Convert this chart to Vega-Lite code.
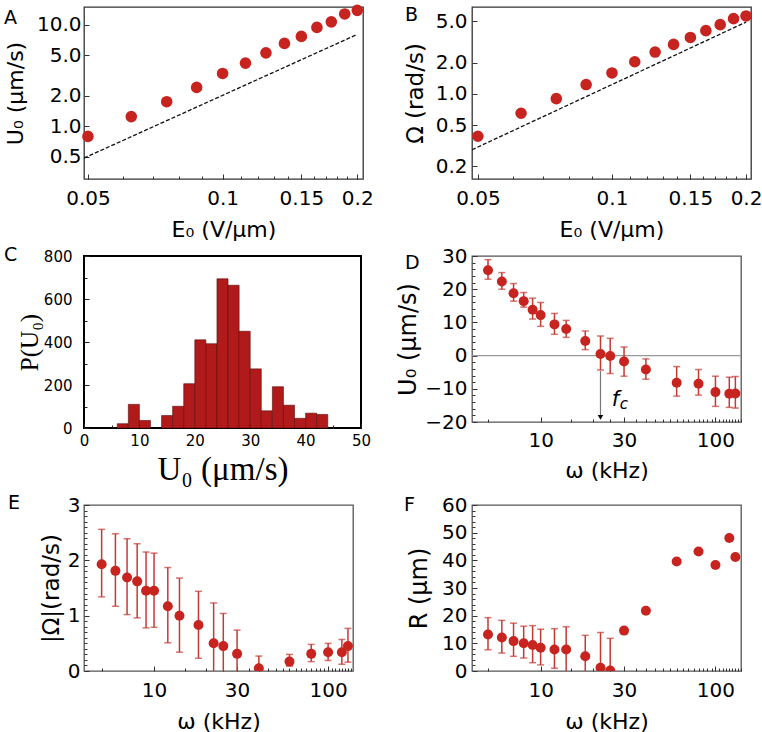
{
  "$schema": "https://vega.github.io/schema/vega-lite/v6.json",
  "background": "white",
  "padding": {"left": 3, "top": 3, "right": 0, "bottom": 0},
  "config": {
    "font": "DejaVu Sans",
    "view": {"stroke": "#333", "strokeWidth": 1.3},
    "axis": {"grid": false, "domain": false, "tickColor": "#333", "tickWidth": 1, "tickSize": 5, "offset": -5,
             "labelFont": "DejaVu Sans", "labelFontSize": 20, "labelColor": "black",
             "titleFont": "DejaVu Sans", "titleFontSize": 22, "titleFontWeight": "normal", "titleColor": "black",
             "labelFlush": false, "labelOverlap": false},
    "text": {"font": "DejaVu Sans", "color": "black"}
  },
  "datasets": {
    "one": [{}],
    "A": [
      {"E": 0.05, "U": 0.79}, {"E": 0.0625, "U": 1.24}, {"E": 0.075, "U": 1.74}, {"E": 0.0875, "U": 2.41},
      {"E": 0.1, "U": 3.31}, {"E": 0.1125, "U": 4.19}, {"E": 0.125, "U": 5.29}, {"E": 0.1375, "U": 6.55},
      {"E": 0.15, "U": 7.68}, {"E": 0.1625, "U": 9.43}, {"E": 0.175, "U": 10.7}, {"E": 0.1875, "U": 12.8},
      {"E": 0.2, "U": 13.9}
    ],
    "Aline": [{"E": 0.049, "U": 0.483}, {"E": 0.2, "U": 8.04}],
    "B": [
      {"E": 0.05, "W": 0.39}, {"E": 0.0625, "W": 0.65}, {"E": 0.075, "W": 0.90}, {"E": 0.0875, "W": 1.23},
      {"E": 0.1, "W": 1.59}, {"E": 0.1125, "W": 2.04}, {"E": 0.125, "W": 2.53}, {"E": 0.1375, "W": 3.00},
      {"E": 0.15, "W": 3.50}, {"E": 0.1625, "W": 4.07}, {"E": 0.175, "W": 4.65}, {"E": 0.1875, "W": 5.31},
      {"E": 0.2, "W": 5.64}
    ],
    "Bline": [{"E": 0.0485, "W": 0.289}, {"E": 0.2, "W": 4.92}],
    "C": [
      {"lo": 6, "hi": 8, "n": 20}, {"lo": 8, "hi": 10, "n": 110}, {"lo": 10, "hi": 12, "n": 35},
      {"lo": 14, "hi": 16, "n": 58}, {"lo": 16, "hi": 18, "n": 101}, {"lo": 18, "hi": 20, "n": 206},
      {"lo": 20, "hi": 22, "n": 410}, {"lo": 22, "hi": 24, "n": 392}, {"lo": 24, "hi": 26, "n": 694},
      {"lo": 26, "hi": 28, "n": 664}, {"lo": 28, "hi": 30, "n": 450}, {"lo": 30, "hi": 32, "n": 275},
      {"lo": 32, "hi": 34, "n": 80}, {"lo": 34, "hi": 36, "n": 192}, {"lo": 36, "hi": 38, "n": 106},
      {"lo": 38, "hi": 40, "n": 45}, {"lo": 40, "hi": 42, "n": 69}, {"lo": 42, "hi": 44, "n": 63}
    ],
    "D": [
      {"f": 5, "v": 25.7, "lo": 23.0, "hi": 28.9}, {"f": 6, "v": 22.3, "lo": 20.0, "hi": 25.0},
      {"f": 7, "v": 18.8, "lo": 16.4, "hi": 21.7}, {"f": 8, "v": 16.4, "lo": 14.6, "hi": 19.0},
      {"f": 9, "v": 13.8, "lo": 11.0, "hi": 17.3}, {"f": 10, "v": 12.2, "lo": 8.8, "hi": 16.0},
      {"f": 12, "v": 9.4, "lo": 6.4, "hi": 12.7}, {"f": 14, "v": 8.0, "lo": 5.5, "hi": 10.6},
      {"f": 18, "v": 4.4, "lo": 1.8, "hi": 7.4}, {"f": 22, "v": 0.5, "lo": -4.3, "hi": 5.9},
      {"f": 25, "v": -0.1, "lo": -5.4, "hi": 5.2}, {"f": 30, "v": -1.8, "lo": -6.2, "hi": 2.6},
      {"f": 40, "v": -4.2, "lo": -7.1, "hi": -1.0}, {"f": 60, "v": -8.2, "lo": -12.2, "hi": -3.3},
      {"f": 80, "v": -8.5, "lo": -11.9, "hi": -4.2}, {"f": 100, "v": -11.0, "lo": -15.3, "hi": -6.2},
      {"f": 120, "v": -11.5, "lo": -15.6, "hi": -6.5}, {"f": 130, "v": -11.4, "lo": -15.8, "hi": -6.3}
    ],
    "Darrow": [{"f": 22, "top": -4.6, "bot": -18.2, "tip": -18.6}],
    "Dlabel": [{"f": 25.5, "y": -15.2}],
    "E": [
      {"f": 5, "v": 1.93, "lo": 1.34, "hi": 2.56}, {"f": 6, "v": 1.81, "lo": 1.17, "hi": 2.48},
      {"f": 7, "v": 1.69, "lo": 1.02, "hi": 2.39}, {"f": 8, "v": 1.62, "lo": 0.96, "hi": 2.30},
      {"f": 9, "v": 1.45, "lo": 0.78, "hi": 2.15}, {"f": 10, "v": 1.45, "lo": 0.79, "hi": 2.13},
      {"f": 12, "v": 1.17, "lo": 0.51, "hi": 1.87}, {"f": 14, "v": 1.00, "lo": 0.34, "hi": 1.68},
      {"f": 18, "v": 0.83, "lo": 0.23, "hi": 1.44}, {"f": 22, "v": 0.50, "lo": -0.2, "hi": 1.23},
      {"f": 25, "v": 0.45, "lo": -0.15, "hi": 1.04}, {"f": 30, "v": 0.31, "lo": -0.1, "hi": 0.74},
      {"f": 40, "v": 0.05, "lo": -0.2, "hi": 0.27}, {"f": 60, "v": 0.17, "lo": 0.09, "hi": 0.30},
      {"f": 80, "v": 0.31, "lo": 0.17, "hi": 0.48}, {"f": 100, "v": 0.34, "lo": 0.19, "hi": 0.50},
      {"f": 120, "v": 0.34, "lo": 0.12, "hi": 0.57}, {"f": 130, "v": 0.45, "lo": 0.16, "hi": 0.77}
    ],
    "F": [
      {"f": 5, "v": 13.2, "lo": 7.7, "hi": 19.3}, {"f": 6, "v": 12.1, "lo": 6.5, "hi": 18.3},
      {"f": 7, "v": 10.8, "lo": 5.3, "hi": 17.3}, {"f": 8, "v": 10.0, "lo": 4.7, "hi": 16.2},
      {"f": 9, "v": 9.4, "lo": 3.0, "hi": 16.4}, {"f": 10, "v": 8.4, "lo": 2.2, "hi": 15.1},
      {"f": 12, "v": 7.8, "lo": 1.0, "hi": 15.3}, {"f": 14, "v": 7.8, "lo": -0.5, "hi": 16.0},
      {"f": 18, "v": 5.3, "lo": -2, "hi": 12.9}, {"f": 22, "v": 1.2, "lo": -11, "hi": 13.9},
      {"f": 25, "v": 0.2, "lo": -11, "hi": 11.8}, {"f": 30, "v": 14.6}, {"f": 40, "v": 21.8},
      {"f": 60, "v": 39.6}, {"f": 80, "v": 43.2}, {"f": 100, "v": 38.3}, {"f": 120, "v": 48.1},
      {"f": 130, "v": 41.2}
    ]
  },
  "columns": 2,
  "bounds": "flush",
  "align": "each",
  "spacing": {"row": 77, "column": 109},
  "concat": [
    {
      "width": 279, "height": 172,
      "resolve": {"axis": {"x": "independent", "y": "independent"}},
      "layer": [
        {"layer": [
          {"data": {"name": "Aline"}, "mark": {"type": "line", "color": "#111", "strokeWidth": 1.3, "strokeDash": [4, 2]},
           "encoding": {
             "x": {"field": "E", "type": "quantitative", "title": "E₀ (V/μm)", "scale": {"type": "log", "domain": [0.049, 0.206], "nice": false},
                   "axis": {"orient": "bottom", "values": [0.05, 0.1, 0.15, 0.2], "format": "~g",
                            "labelBaseline": "alphabetic", "labelPadding": 25.7, "titleY": 62, "titleBaseline": "alphabetic"}},
             "y": {"field": "U", "type": "quantitative", "title": "U₀ (μm/s)", "scale": {"type": "log", "domain": [0.3, 15], "nice": false},
                   "axis": {"orient": "left", "values": [0.5, 1, 2, 5, 10], "format": ".1f", "labelPadding": 3,
                            "titleX": -62, "titleBaseline": "bottom", "titleFontSize": 22}}
           }},
          {"data": {"name": "A"}, "mark": {"type": "circle", "size": 135, "color": "#c8241f", "opacity": 1},
           "encoding": {
             "x": {"field": "E", "type": "quantitative", "title": "E₀ (V/μm)"},
             "y": {"field": "U", "type": "quantitative", "title": "U₀ (μm/s)"}
           }}
        ]},
        {"data": {"name": "one"}, "mark": {"type": "text", "text": "A", "align": "left", "baseline": "alphabetic", "dx": -80, "dy": 16.7, "fontSize": 19},
         "encoding": {
           "x": {"datum": 0.049, "type": "quantitative",
                 "axis": {"orient": "bottom", "values": [0.05,0.06,0.07,0.08,0.09,0.1,0.11,0.12,0.13,0.14,0.15,0.16,0.17,0.18,0.19,0.2],
                          "labels": false, "title": null, "tickSize": 3, "offset": -3}},
           "y": {"datum": 15, "type": "quantitative", "axis": null}
         }}
      ]
    },
    {
      "width": 279, "height": 172,
      "resolve": {"axis": {"x": "independent", "y": "independent"}},
      "layer": [
        {"layer": [
          {"data": {"name": "Bline"}, "mark": {"type": "line", "color": "#111", "strokeWidth": 1.3, "strokeDash": [4, 2]},
           "encoding": {
             "x": {"field": "E", "type": "quantitative", "title": "E₀ (V/μm)", "scale": {"type": "log", "domain": [0.0485, 0.2052], "nice": false},
                   "axis": {"orient": "bottom", "values": [0.05, 0.1, 0.15, 0.2], "format": "~g",
                            "labelBaseline": "alphabetic", "labelPadding": 25.7, "titleY": 62, "titleBaseline": "alphabetic"}},
             "y": {"field": "W", "type": "quantitative", "title": "Ω (rad/s)", "scale": {"type": "log", "domain": [0.151, 6.88], "nice": false},
                   "axis": {"orient": "left", "values": [0.2, 0.5, 1, 2, 5], "format": ".1f", "labelPadding": 5,
                            "titleX": -50, "titleBaseline": "bottom", "titleFontSize": 23}}
           }},
          {"data": {"name": "B"}, "mark": {"type": "circle", "size": 135, "color": "#c8241f", "opacity": 1},
           "encoding": {
             "x": {"field": "E", "type": "quantitative", "title": "E₀ (V/μm)"},
             "y": {"field": "W", "type": "quantitative", "title": "Ω (rad/s)"}
           }}
        ]},
        {"data": {"name": "one"}, "mark": {"type": "text", "text": "B", "align": "left", "baseline": "alphabetic", "dx": -67, "dy": 14.3, "fontSize": 19},
         "encoding": {
           "x": {"datum": 0.0485, "type": "quantitative",
                 "axis": {"orient": "bottom", "values": [0.05,0.06,0.07,0.08,0.09,0.1,0.11,0.12,0.13,0.14,0.15,0.16,0.17,0.18,0.19,0.2],
                          "labels": false, "title": null, "tickSize": 3, "offset": -3}},
           "y": {"datum": 6.88, "type": "quantitative", "axis": null}
         }}
      ]
    },
    {
      "width": 277, "height": 172,
      "view": {"stroke": "black", "strokeWidth": 2},
      "resolve": {"axis": {"x": "independent", "y": "independent"}},
      "layer": [
        {"data": {"name": "C"},
         "mark": {"type": "rect", "fill": "#b01a1a", "stroke": "#5e0c0c", "strokeWidth": 0.6},
         "encoding": {
           "x": {"field": "lo", "type": "quantitative", "title": "U₀ (μm/s)", "scale": {"domain": [0, 50], "nice": false},
                 "axis": {"orient": "bottom", "values": [0, 10, 20, 30, 40, 50], "labelFontSize": 15,
                          "labelBaseline": "alphabetic", "labelPadding": 17, "tickColor": "#222",
                          "titleFont": "Liberation Serif", "titleFontSize": 33, "titleY": 56, "titleBaseline": "alphabetic"}},
           "x2": {"field": "hi"},
           "y": {"field": "n", "type": "quantitative", "title": "P(U₀)", "scale": {"domain": [0, 800], "nice": false},
                 "axis": {"orient": "left", "values": [0, 200, 400, 600, 800], "labelFontSize": 15,
                          "labelPadding": 12, "tickColor": "#222",
                          "titleFont": "Liberation Serif", "titleFontSize": 25, "titleX": -47, "titleBaseline": "bottom"}},
           "y2": {"datum": 0}
         }},
        {"data": {"name": "one"}, "mark": {"type": "text", "text": "C", "align": "left", "baseline": "alphabetic", "dx": -80, "dy": 5, "fontSize": 19},
         "encoding": {
           "x": {"datum": 0, "type": "quantitative",
                 "axis": {"orient": "bottom", "values": [5, 15, 25, 35, 45], "labels": false, "title": null, "tickSize": 3, "offset": -3, "tickColor": "#222"}},
           "y": {"datum": 800, "type": "quantitative",
                 "axis": {"orient": "left", "values": [100, 300, 500, 700], "labels": false, "title": null, "tickSize": 3, "offset": -3, "tickColor": "#222"}}
         }}
      ]
    },
    {
      "width": 269, "height": 166,
      "view": {"stroke": "#555", "strokeWidth": 1.3},
      "resolve": {"axis": {"x": "independent", "y": "independent"}},
      "layer": [
        {"layer": [
          {"data": {"name": "one"}, "mark": {"type": "rule", "color": "#999", "strokeWidth": 1.2},
           "encoding": {
             "x": {"datum": 4.05, "type": "quantitative", "scale": {"type": "log", "domain": [4.05, 140], "nice": false}, "axis": null},
             "x2": {"datum": 140},
             "y": {"datum": 0, "type": "quantitative", "scale": {"domain": [-20, 30], "nice": false, "zero": false}, "axis": null}
           }},
          {"data": {"name": "Darrow"}, "mark": {"type": "rule", "color": "#777", "strokeWidth": 1.2},
           "encoding": {"x": {"field": "f", "type": "quantitative", "axis": null}, "y": {"field": "top", "type": "quantitative", "axis": null}, "y2": {"field": "bot"}}},
          {"data": {"name": "Darrow"}, "mark": {"type": "point", "shape": "triangle-down", "filled": true, "color": "black", "size": 30, "opacity": 1},
           "encoding": {"x": {"field": "f", "type": "quantitative", "axis": null}, "y": {"field": "tip", "type": "quantitative", "axis": null}}},
          {"data": {"name": "Dlabel"}, "mark": {"type": "text", "text": "f", "fontStyle": "italic", "fontSize": 21, "align": "left", "baseline": "alphabetic"},
           "encoding": {"x": {"field": "f", "type": "quantitative", "axis": null}, "y": {"field": "y", "type": "quantitative", "axis": null}}},
          {"data": {"name": "Dlabel"}, "mark": {"type": "text", "text": "c", "fontStyle": "italic", "fontSize": 15, "align": "left", "baseline": "alphabetic", "dx": 8, "dy": 3},
           "encoding": {"x": {"field": "f", "type": "quantitative", "axis": null}, "y": {"field": "y", "type": "quantitative", "axis": null}}},
          {"data": {"name": "D"}, "mark": {"type": "errorbar", "ticks": true, "size": 7, "color": "#c33a33", "thickness": 1.5, "clip": true},
           "encoding": {"x": {"field": "f", "type": "quantitative", "axis": null}, "y": {"field": "lo", "type": "quantitative", "axis": null}, "y2": {"field": "hi"}}},
          {"data": {"name": "D"}, "mark": {"type": "circle", "size": 100, "color": "#c8241f", "opacity": 1},
           "encoding": {"x": {"field": "f", "type": "quantitative", "axis": null}, "y": {"field": "v", "type": "quantitative", "axis": null}}}
        ]},
        {"data": {"name": "one"}, "mark": {"type": "text", "text": "D", "align": "left", "baseline": "alphabetic", "dx": -67, "dy": 13, "fontSize": 19},
         "encoding": {
           "x": {"datum": 4.05, "type": "quantitative",
                 "axis": {"title": "ω (kHz)", "orient": "bottom", "values": [10, 30, 100], "format": "d", "labelOverlap": false,
                          "labelBaseline": "alphabetic", "labelPadding": 24, "titleY": 60, "titleBaseline": "alphabetic"}},
           "y": {"datum": 30, "type": "quantitative",
                 "axis": {"title": "U₀ (μm/s)", "orient": "left", "values": [-20, -10, 0, 10, 20, 30], "format": "d", "labelPadding": 5, "labelOverlap": false,
                          "titleX": -57, "titleBaseline": "bottom", "titleFontSize": 24}}
         }},
        {"data": {"name": "one"}, "mark": {"type": "text", "text": ""},
         "encoding": {
           "x": {"datum": 4.05, "type": "quantitative",
                 "axis": {"orient": "bottom", "values": [5,15,20,25,35,40,45,50,55,60,65,70,75,80,85,90,95,105,110,115,120,125,130,135,140],
                          "labels": false, "title": null, "tickSize": 3, "offset": -3}},
           "y": {"datum": 30, "type": "quantitative",
                 "axis": {"orient": "left", "values": [-18,-16,-14,-12,-8,-6,-4,-2,2,4,6,8,12,14,16,18,22,24,26,28],
                          "labels": false, "title": null, "tickSize": 3, "offset": -3}}
         }}
      ]
    },
    {
      "width": 269, "height": 166,
      "view": {"stroke": "#555", "strokeWidth": 1.3},
      "resolve": {"axis": {"x": "independent", "y": "independent"}},
      "layer": [
        {"layer": [
          {"data": {"name": "E"}, "mark": {"type": "errorbar", "ticks": true, "size": 7, "color": "#c33a33", "thickness": 1.5, "clip": true},
           "encoding": {
             "x": {"field": "f", "type": "quantitative", "scale": {"type": "log", "domain": [3.96, 139], "nice": false}, "axis": null},
             "y": {"field": "lo", "type": "quantitative", "scale": {"domain": [0, 3], "nice": false}, "axis": null},
             "y2": {"field": "hi"}
           }},
          {"data": {"name": "E"}, "mark": {"type": "circle", "size": 100, "color": "#c8241f", "opacity": 1, "clip": true},
           "encoding": {"x": {"field": "f", "type": "quantitative", "axis": null}, "y": {"field": "v", "type": "quantitative", "axis": null}}}
        ]},
        {"data": {"name": "one"}, "mark": {"type": "text", "text": "E", "align": "left", "baseline": "alphabetic", "dx": -76, "dy": 4, "fontSize": 19},
         "encoding": {
           "x": {"datum": 3.96, "type": "quantitative",
                 "axis": {"title": "ω (kHz)", "orient": "bottom", "values": [10, 30, 100], "format": "d", "labelOverlap": false,
                          "labelBaseline": "alphabetic", "labelPadding": 25, "titleY": 62, "titleBaseline": "alphabetic"}},
           "y": {"datum": 3, "type": "quantitative",
                 "axis": {"title": "|Ω|(rad/s)", "orient": "left", "values": [0, 1, 2, 3], "format": "d", "labelPadding": 4, "labelOverlap": false,
                          "titleX": -26, "titleBaseline": "bottom", "titleFontSize": 23}}
         }},
        {"data": {"name": "one"}, "mark": {"type": "text", "text": ""},
         "encoding": {
           "x": {"datum": 3.96, "type": "quantitative",
                 "axis": {"orient": "bottom", "values": [5,15,20,25,35,40,45,50,55,60,65,70,75,80,85,90,95,105,110,115,120,125,130,135],
                          "labels": false, "title": null, "tickSize": 3, "offset": -3}},
           "y": {"datum": 3, "type": "quantitative",
                 "axis": {"orient": "left", "values": [0.1,0.2,0.3,0.4,0.5,0.6,0.7,0.8,0.9,1.1,1.2,1.3,1.4,1.5,1.6,1.7,1.8,1.9,2.1,2.2,2.3,2.4,2.5,2.6,2.7,2.8,2.9],
                          "labels": false, "title": null, "tickSize": 3, "offset": -3}}
         }}
      ]
    },
    {
      "width": 269, "height": 166,
      "view": {"stroke": "#555", "strokeWidth": 1.3},
      "resolve": {"axis": {"x": "independent", "y": "independent"}},
      "layer": [
        {"layer": [
          {"data": {"name": "F"}, "transform": [{"filter": "isValid(datum.lo)"}],
           "mark": {"type": "errorbar", "ticks": true, "size": 7, "color": "#c33a33", "thickness": 1.5, "clip": true},
           "encoding": {
             "x": {"field": "f", "type": "quantitative", "scale": {"type": "log", "domain": [4.05, 140], "nice": false}, "axis": null},
             "y": {"field": "lo", "type": "quantitative", "scale": {"domain": [0, 60], "nice": false}, "axis": null},
             "y2": {"field": "hi"}
           }},
          {"data": {"name": "F"}, "mark": {"type": "circle", "size": 100, "color": "#c8241f", "opacity": 1, "clip": true},
           "encoding": {"x": {"field": "f", "type": "quantitative", "axis": null}, "y": {"field": "v", "type": "quantitative", "axis": null}}}
        ]},
        {"data": {"name": "one"}, "mark": {"type": "text", "text": "F", "align": "left", "baseline": "alphabetic", "dx": -68, "dy": 6, "fontSize": 19},
         "encoding": {
           "x": {"datum": 4.05, "type": "quantitative",
                 "axis": {"title": "ω (kHz)", "orient": "bottom", "values": [10, 30, 100], "format": "d", "labelOverlap": false,
                          "labelBaseline": "alphabetic", "labelPadding": 25, "titleY": 62, "titleBaseline": "alphabetic"}},
           "y": {"datum": 60, "type": "quantitative",
                 "axis": {"title": "R (μm)", "orient": "left", "values": [0, 10, 20, 30, 40, 50, 60], "format": "d", "labelPadding": 5, "labelOverlap": false,
                          "titleX": -46, "titleBaseline": "bottom", "titleFontSize": 24}}
         }},
        {"data": {"name": "one"}, "mark": {"type": "text", "text": ""},
         "encoding": {
           "x": {"datum": 4.05, "type": "quantitative",
                 "axis": {"orient": "bottom", "values": [5,15,20,25,35,40,45,50,55,60,65,70,75,80,85,90,95,105,110,115,120,125,130,135,140],
                          "labels": false, "title": null, "tickSize": 3, "offset": -3}},
           "y": {"datum": 60, "type": "quantitative",
                 "axis": {"orient": "left", "values": [2,4,6,8,12,14,16,18,22,24,26,28,32,34,36,38,42,44,46,48,52,54,56,58],
                          "labels": false, "title": null, "tickSize": 3, "offset": -3}}
         }}
      ]
    }
  ]
}
